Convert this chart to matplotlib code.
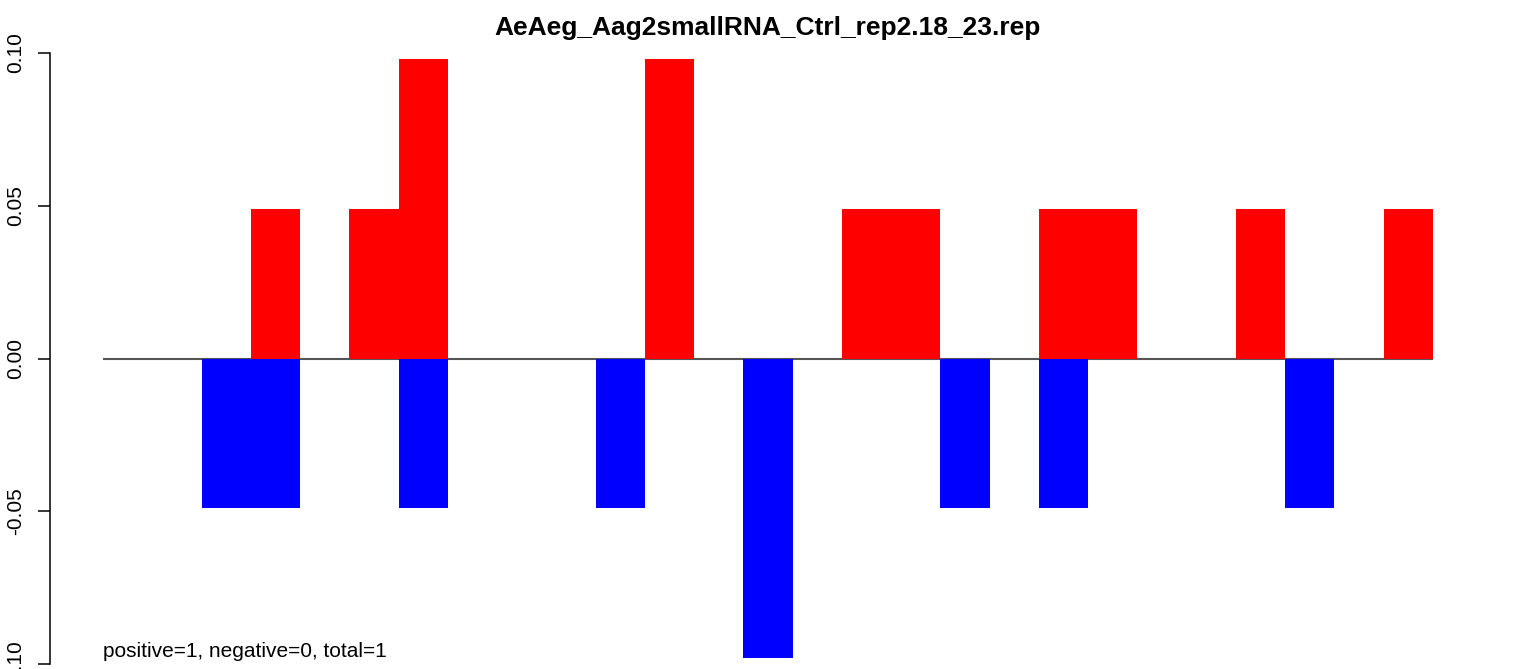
import numpy as np
import matplotlib
matplotlib.use("Agg")
import matplotlib.pyplot as plt

plt.rcParams['font.family'] = ['Liberation Sans', 'DejaVu Sans']

# 27 positions, one bar each side of zero
positive = [0, 0, 0, 0.049, 0, 0.049, 0.098, 0, 0, 0, 0, 0.098, 0, 0,
            0, 0.049, 0.049, 0, 0, 0.049, 0.049, 0, 0, 0.049, 0, 0, 0.049]
negative = [0, 0, -0.049, -0.049, 0, 0, -0.049, 0, 0, 0, -0.049, 0, 0, -0.098,
            0, 0, 0, -0.049, 0, -0.049, 0, 0, 0, 0, -0.049, 0, 0]
y_ticks = [-0.10, -0.05, 0.00, 0.05, 0.10]
title = "AeAeg_Aag2smallRNA_Ctrl_rep2.18_23.rep"
note = "positive=1, negative=0, total=1"

W, H = 1533, 669
fig = plt.figure(figsize=(W / 100, H / 100), dpi=100)
ax = fig.add_axes([50 / W, 5 / H, 1436 / W, 611 / H])

n = len(positive)
x = np.arange(n)
ax.hlines(0, 0, n, color='#555555', lw=1.5, zorder=1)
ax.bar(x, positive, width=1, align='edge', color='#ff0000', zorder=2)
ax.bar(x, negative, width=1, align='edge', color='#0000ff', zorder=2)

ax.set_xlim(-1.08, n + 1.08)
ax.set_ylim(-0.10, 0.10)
ax.set_yticks(y_ticks)
ax.set_yticklabels([f"{v:.2f}" for v in y_ticks], rotation=90, va='center', fontsize=15)
ax.tick_params(axis='y', length=8.6, width=1.1, pad=9)
ax.set_xticks([])
for s in ['top', 'right', 'bottom']:
    ax.spines[s].set_visible(False)
ax.spines['left'].set_linewidth(1.1)

ax.text(0, -0.0958, note, fontsize=15, ha='left', va='center')
fig.text(768 / W, 1 - 28 / H, title, fontsize=19, fontweight='bold', ha='center', va='center')

fig.savefig("out.png", dpi=100)
